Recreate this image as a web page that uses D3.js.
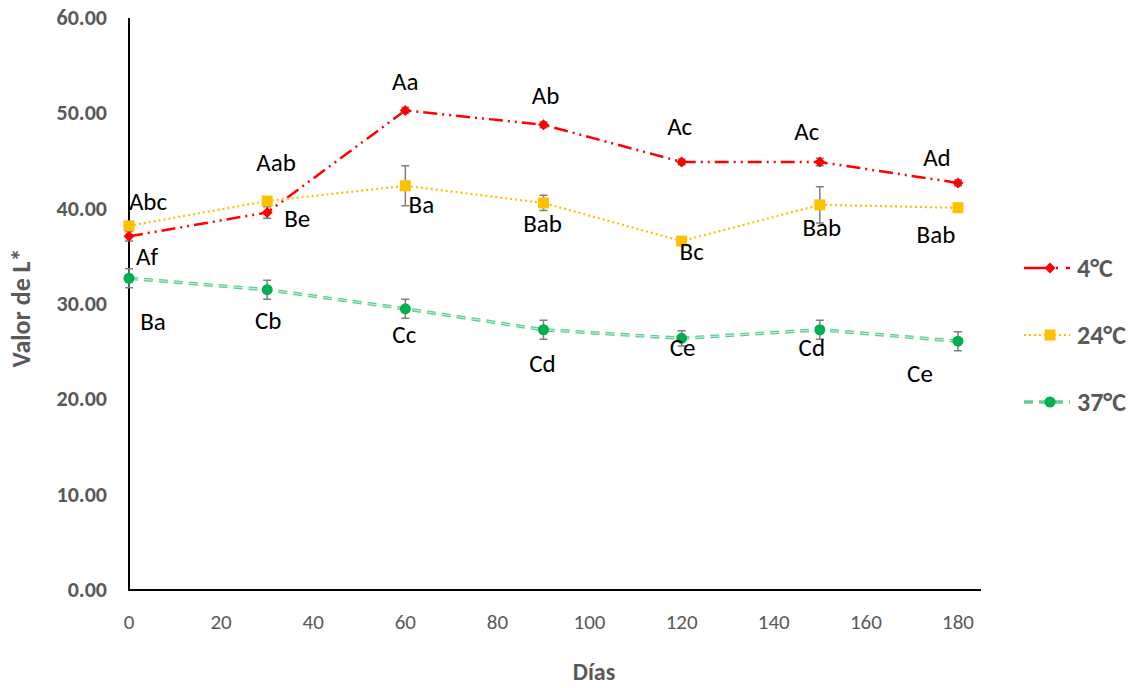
<!DOCTYPE html>
<html>
<head>
<meta charset="utf-8">
<script src="https://cdn.jsdelivr.net/npm/d3@7"></script>
<style>
  body { margin: 0; background: #fff; }
  svg { display: block; }
</style>
</head>
<body>
<svg id="chart" width="1132" height="688"></svg>
<script>
// data
const days = [0, 30, 60, 90, 120, 150, 180];
const series = ["4°C", "24°C", "37°C"];
const mean4 = [37.1, 39.6, 50.3, 48.8, 44.9, 44.9, 42.7];
const err4 = [0.5, 0.6, 0.3, 0.3, 0.3, 0.4, 0.3];
const mean24 = [38.2, 40.8, 42.4, 40.6, 36.6, 40.4, 40.1];
const err24 = [0.4, 0.4, 2.1, 0.8, 0.4, 1.9, 0.3];
const mean37 = [32.7, 31.5, 29.5, 27.3, 26.4, 27.3, 26.1];
const err37 = [1.0, 1.0, 1.0, 1.0, 0.8, 1.0, 1.0];
const letters4 = ["Af", "Be", "Aa", "Ab", "Ac", "Ac", "Ad"];
const letters24 = ["Abc", "Aab", "Ba", "Bab", "Bc", "Bab", "Bab"];
const letters37 = ["Ba", "Cb", "Cc", "Cd", "Ce", "Cd", "Ce"];
const yTicks = [0, 10, 20, 30, 40, 50, 60];
const xTicks = [0, 20, 40, 60, 80, 100, 120, 140, 160, 180];

// label placement (pixels from the point, baseline)
const off4 = [[18, 29], [30, 15], [0, -20], [2, -21], [-2, -27], [-13, -22], [-21, -17]];
const off24 = [[19, -16], [9, -30], [16, 27], [-1, 29], [10, 19], [2, 31], [-22, 35]];
const off37 = [[24, 52], [1, 39], [-1, 34], [-1, 42], [1, 18], [-8, 26], [-38, 41]];

const svg = d3.select("#chart");
const gray = "#595959";
const font = "Carlito, 'Noto Sans', sans-serif";

const x = d3.scaleLinear().domain([0, 185]).range([129, 981]);
const y = d3.scaleLinear().domain([0, 60]).range([590, 18]);

// axis tick labels
svg.selectAll(".ytl").data(yTicks).join("text")
  .attr("x", 107).attr("y", d => y(d) + 7)
  .attr("text-anchor", "end")
  .attr("font-family", font).attr("font-size", 22).attr("font-weight", "bold")
  .attr("fill", gray).text(d => d.toFixed(2));

svg.selectAll(".xtl").data(xTicks).join("text")
  .attr("x", d => x(d)).attr("y", 629)
  .attr("text-anchor", "middle")
  .attr("font-family", font).attr("font-size", 21)
  .attr("fill", gray).text(d => d);

// axes
svg.append("path")
  .attr("d", `M${x(0)},${y(60)}V${y(0)}H${x(185)}`)
  .attr("fill", "none").attr("stroke", "#000").attr("stroke-width", 2);

// titles
svg.append("text")
  .attr("transform", `translate(30,${y(30) + 4}) rotate(-90)`)
  .attr("text-anchor", "middle")
  .attr("font-family", font).attr("font-size", 26).attr("font-weight", "bold")
  .attr("fill", gray).text("Valor de L*");
svg.append("text")
  .attr("x", 594).attr("y", 680).attr("text-anchor", "middle")
  .attr("font-family", font).attr("font-size", 24).attr("font-weight", "bold")
  .attr("fill", gray).text("Días");

const defs = [
  { name: series[0], mean: mean4, err: err4, letters: letters4, off: off4,
    color: "#FF0000", dash: "14,5,2,5,2,5", width: 2.5, marker: "diamond" },
  { name: series[1], mean: mean24, err: err24, letters: letters24, off: off24,
    color: "#FFC000", dash: "2,3", width: 2.2, marker: "square" },
  { name: series[2], mean: mean37, err: err37, letters: letters37, off: off37,
    color: "#00B050", dash: "9,6", width: 3.5, marker: "circle", light: "#5fce92" }
];

const line = d3.line().x((d, i) => x(days[i])).y(d => y(d));

function markerPath(type, cx, cy) {
  const p = d3.path();
  if (type === "diamond") {
    p.moveTo(cx, cy - 5.5); p.lineTo(cx + 5.5, cy); p.lineTo(cx, cy + 5.5); p.lineTo(cx - 5.5, cy); p.closePath();
  } else if (type === "square") {
    p.rect(cx - 5.5, cy - 5.5, 11, 11);
  } else {
    p.arc(cx, cy, 5.5, 0, Math.PI * 2);
  }
  return p.toString();
}

defs.forEach(s => {
  const g = svg.append("g");
  if (s.light) {
    g.append("path").attr("d", line(s.mean)).attr("fill", "none")
      .attr("stroke", s.light).attr("stroke-width", s.width).attr("stroke-dasharray", s.dash);
    g.append("path").attr("d", line(s.mean)).attr("fill", "none")
      .attr("stroke", "#c8f0d8").attr("stroke-width", 1).attr("stroke-dasharray", s.dash);
  } else {
    g.append("path").attr("d", line(s.mean)).attr("fill", "none")
      .attr("stroke", s.color).attr("stroke-width", s.width).attr("stroke-dasharray", s.dash);
  }
  // error bars
  s.mean.forEach((m, i) => {
    const cx = x(days[i]);
    const e = d3.path();
    e.moveTo(cx, y(m + s.err[i])); e.lineTo(cx, y(m - s.err[i]));
    e.moveTo(cx - 4, y(m + s.err[i])); e.lineTo(cx + 4, y(m + s.err[i]));
    e.moveTo(cx - 4, y(m - s.err[i])); e.lineTo(cx + 4, y(m - s.err[i]));
    g.append("path").attr("d", e.toString()).attr("fill", "none")
      .attr("stroke", "#7f7f7f").attr("stroke-width", 1.5);
  });
  g.selectAll(".mk").data(s.mean).join("path")
    .attr("d", (d, i) => markerPath(s.marker, x(days[i]), y(d)))
    .attr("fill", s.color);
  g.selectAll(".lb").data(s.letters).join("text")
    .attr("x", (d, i) => x(days[i]) + s.off[i][0])
    .attr("y", (d, i) => y(s.mean[i]) + s.off[i][1])
    .attr("text-anchor", "middle")
    .attr("font-family", font).attr("font-size", 25)
    .attr("fill", "#000").text(d => d);
});

// legend
const legY = [268, 335, 402];
defs.forEach((s, k) => {
  const ly = legY[k];
  const g = svg.append("g");
  g.append("line").attr("x1", 1024).attr("x2", 1070).attr("y1", ly).attr("y2", ly)
    .attr("stroke", s.light || s.color).attr("stroke-width", s.width)
    .attr("stroke-dasharray", k === 0 ? "24,8,2,8" : s.dash);
  g.append("path").attr("d", markerPath(s.marker, 1050, ly)).attr("fill", s.color);
  g.append("text").attr("x", 1077).attr("y", ly + 9)
    .attr("font-family", font).attr("font-size", 26).attr("font-weight", "bold")
    .attr("fill", gray).text(s.name);
});
</script>
</body>
</html>
